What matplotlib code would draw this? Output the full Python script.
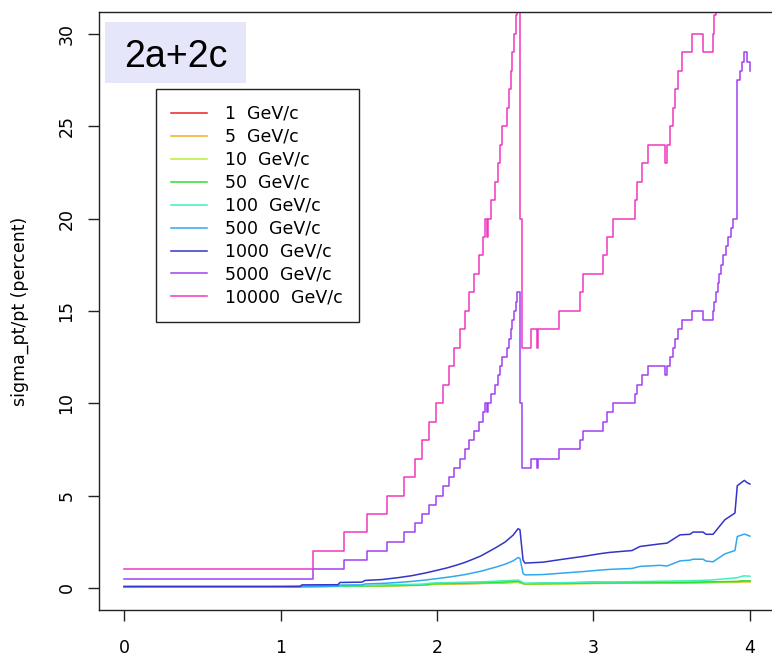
import matplotlib
matplotlib.use('Agg')
import matplotlib.pyplot as plt
from matplotlib.patches import Rectangle

# ---- dados (x = eta, y = sigma_pt/pt em %) ----
labels = ['1  GeV/c', '5  GeV/c', '10  GeV/c', '50  GeV/c', '100  GeV/c',
          '500  GeV/c', '1000  GeV/c', '5000  GeV/c', '10000  GeV/c']
colors = ['#ee2020', '#f0b020', '#b8f030', '#30dd30', '#40f0c0',
          '#30a8f0', '#3434c8', '#a040f0', '#f038c0']

# curvas baixas (1 .. 100 GeV/c) compartilham o mesmo eixo x
x_low = [0.0, 1.0, 1.5, 1.9, 1.97, 2.0, 2.3, 2.52, 2.56, 2.8, 3.0, 3.3,
         3.6, 3.75, 3.92, 3.96, 4.0]
y1 = [0.04, 0.06, 0.10, 0.15, 0.20, 0.21, 0.25, 0.31, 0.22, 0.26, 0.30, 0.27,
      0.28, 0.30, 0.33, 0.35, 0.35]
y5 = [0.03, 0.05, 0.09, 0.14, 0.19, 0.20, 0.24, 0.30, 0.20, 0.22, 0.24, 0.26,
      0.27, 0.29, 0.31, 0.33, 0.33]
y10 = [0.03, 0.05, 0.09, 0.14, 0.20, 0.21, 0.25, 0.32, 0.20, 0.22, 0.24, 0.26,
       0.28, 0.30, 0.32, 0.34, 0.34]
y50 = [0.03, 0.05, 0.10, 0.15, 0.22, 0.23, 0.27, 0.35, 0.22, 0.24, 0.26, 0.28,
       0.30, 0.32, 0.35, 0.38, 0.37]
y100 = [0.04, 0.06, 0.12, 0.20, 0.26, 0.27, 0.33, 0.42, 0.25, 0.28, 0.31, 0.34,
        0.38, 0.42, 0.55, 0.65, 0.63]

# 500 e 1000 GeV/c
x_mid = [0.0, 1.125, 1.137, 1.367, 1.38, 1.521, 1.54, 1.65, 1.75, 1.84,
         1.923, 2.0, 2.064, 2.121, 2.179, 2.23, 2.281, 2.332, 2.383, 2.435,
         2.486, 2.518, 2.53, 2.55, 2.562, 2.677, 2.805, 2.933, 3.042, 3.105,
         3.246, 3.297, 3.425, 3.47, 3.553, 3.617, 3.636, 3.70, 3.719, 3.764,
         3.84, 3.904, 3.919, 3.964, 3.981, 4.0]
y1000 = [0.08, 0.08, 0.16, 0.17, 0.29, 0.31, 0.40, 0.45, 0.55, 0.66,
         0.80, 0.95, 1.08, 1.22, 1.38, 1.55, 1.73, 1.97, 2.21, 2.48,
         2.85, 3.20, 3.15, 1.50, 1.34, 1.39, 1.55, 1.70, 1.85, 1.92,
         2.02, 2.24, 2.38, 2.42, 2.87, 2.90, 3.02, 3.02, 2.90, 2.90,
         3.69, 4.05, 5.53, 5.82, 5.70, 5.62]
y500 = [0.05, 0.05, 0.08, 0.09, 0.15, 0.16, 0.21, 0.24, 0.29, 0.35,
        0.42, 0.50, 0.57, 0.64, 0.72, 0.81, 0.90, 1.02, 1.14, 1.28,
        1.46, 1.64, 1.60, 0.78, 0.70, 0.72, 0.80, 0.88, 0.96, 1.00,
        1.05, 1.16, 1.22, 1.18, 1.46, 1.50, 1.55, 1.55, 1.45, 1.41,
        1.84, 2.02, 2.78, 2.91, 2.86, 2.80]

# 5000 e 10000 GeV/c: patamares (degraus), desenhados com steps-post
x_step = [0.0, 1.208, 1.406, 1.553, 1.681, 1.789, 1.859, 1.904, 1.949, 1.994,
          2.038, 2.077, 2.109, 2.147, 2.179, 2.206, 2.238, 2.270, 2.292, 2.307,
          2.317, 2.328, 2.345, 2.371, 2.392, 2.402, 2.413, 2.445, 2.460, 2.470,
          2.477, 2.492, 2.505, 2.514, 2.530, 2.541, 2.600, 2.636, 2.646, 2.780,
          2.914, 2.933, 3.061, 3.086, 3.125, 3.265, 3.280, 3.308, 3.350, 3.457,
          3.468, 3.489, 3.506, 3.521, 3.538, 3.564, 3.629, 3.698, 3.764, 3.773,
          3.783, 3.795, 3.805, 3.815, 3.826, 3.844, 3.862, 3.876, 3.890, 3.919,
          3.936, 3.949, 3.962, 3.979, 4.0]
y10000 = [1, 2, 3, 4, 5, 6, 7, 8, 9, 10,
          11, 12, 13, 14, 15, 16, 17, 18, 19, 20,
          19, 20, 21, 22, 23, 24, 25, 26, 27, 28,
          29, 30, 31, 32, 20, 13, 14, 13, 14, 15,
          16, 17, 18, 19, 20, 21, 22, 23, 24, 23,
          24, 25, 26, 27, 28, 29, 30, 29, 30, 31,
          32, 33, 34, 35, 36, 37, 38, 39, 40, 55,
          56, 57, 58, 57, 56]
y5000 = [0.5, 1, 1.5, 2, 2.5, 3, 3.5, 4, 4.5, 5,
         5.5, 6, 6.5, 7, 7.5, 8, 8.5, 9, 9.5, 10,
         9.5, 10, 10.5, 11, 11.5, 12, 12.5, 13, 13.5, 14,
         14.5, 15, 15.5, 16, 10, 6.5, 7, 6.5, 7, 7.5,
         8, 8.5, 9, 9.5, 10, 10.5, 11, 11.5, 12, 11.5,
         12, 12.5, 13, 13.5, 14, 14.5, 15, 14.5, 15, 15.5,
         16, 16.5, 17, 17.5, 18, 18.5, 19, 19.5, 20, 27.5,
         28, 28.5, 29, 28.5, 28]

xticks = [0, 1, 2, 3, 4]
yticks = [0, 5, 10, 15, 20, 25, 30]

W, H = 772, 657
fig = plt.figure(figsize=(W / 100, H / 100), dpi=100)
ax = fig.add_axes([99 / W, 1 - 610 / H, 676 / W, (610 - 11.7) / H])

lw = 1.1
series = [(x_low, y1), (x_low, y5), (x_low, y10), (x_low, y50), (x_low, y100),
          (x_mid, y500), (x_mid, y1000)]
for (xs, ys), c, lab in zip(series, colors[:7], labels[:7]):
    ax.plot(xs, ys, color=c, lw=lw, label=lab)
ax.plot(x_step, y5000, drawstyle='steps-post', color=colors[7], lw=lw, label=labels[7])
ax.plot(x_step, y10000, drawstyle='steps-post', color=colors[8], lw=lw, label=labels[8])

ax.set_xlim(-0.16, 4.16)
ax.set_ylim(-1.2, 31.2)
ax.set_xticks(xticks)
ax.set_yticks(yticks)
ax.set_xticklabels([str(v) for v in xticks], family='DejaVu Sans', fontsize=12.5)
ax.set_yticklabels([str(v) for v in yticks], family='DejaVu Sans', fontsize=12.5,
                   rotation=90, va='center')
ax.tick_params(axis='both', direction='out', length=8, width=1.0, color='#222222')
ax.tick_params(axis='x', pad=13)
ax.tick_params(axis='y', pad=9)
for sp in ax.spines.values():
    sp.set_linewidth(1.0)
    sp.set_color('#222222')

fig.text(20 / W, 1 - 311 / H, 'sigma_pt/pt (percent)', rotation=90,
         ha='center', va='center', family='DejaVu Sans', fontsize=12.5)

# legenda
leg = ax.legend(loc='upper left', bbox_to_anchor=(155.7 / W, 1 - 89.3 / H),
                bbox_transform=fig.transFigure, borderaxespad=0,
                prop={'family': 'DejaVu Sans', 'size': 12.5},
                handlelength=2.05, handletextpad=1.06, labelspacing=0.285,
                borderpad=0.9, fancybox=False, framealpha=1)
leg.get_frame().set_edgecolor('#222222')
leg.get_frame().set_linewidth(1.0)

# caixa do titulo
fig.add_artist(Rectangle((105 / W, 1 - 82.7 / H), (246 - 105) / W, (82.7 - 22.3) / H,
                         transform=fig.transFigure, facecolor='#e6e6fa',
                         edgecolor='none'))
fig.text(175.5 / W, 1 - 66.7 / H, '2a+2c', ha='center', va='baseline',
         family='Liberation Sans', fontsize=27)

fig.savefig('out.png', dpi=100)
